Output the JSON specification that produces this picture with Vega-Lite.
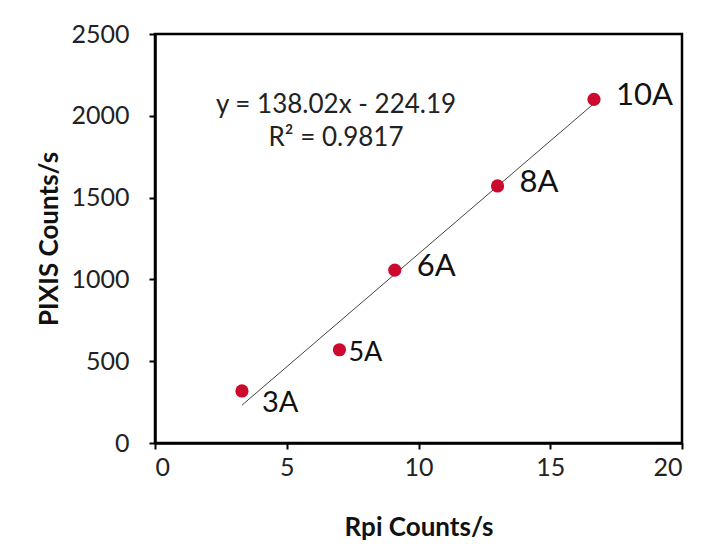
{
  "$schema": "https://vega.github.io/schema/vega-lite/v6.json",
  "width": 527,
  "height": 409,
  "autosize": "none",
  "padding": {"left": 155, "top": 34, "right": 36, "bottom": 113},
  "background": "white",
  "config": {
    "font": "Lato",
    "view": {"stroke": "#000000", "strokeWidth": 2.5},
    "axis": {
      "grid": false,
      "domainColor": "#000000",
      "domainWidth": 2.5,
      "tickColor": "#000000",
      "tickWidth": 2,
      "tickSize": 6,
      "labelFont": "Lato",
      "labelFontSize": 25,
      "labelColor": "#222222",
      "titleFont": "Lato",
      "titleFontSize": 26,
      "titleFontWeight": "bold",
      "titleColor": "#111111"
    }
  },
  "datasets": {
    "pts": [
      {"rpi": 3.3, "pixis": 318, "label": "3A"},
      {"rpi": 7.0, "pixis": 570, "label": "5A"},
      {"rpi": 9.1, "pixis": 1057, "label": "6A"},
      {"rpi": 13.0, "pixis": 1571, "label": "8A"},
      {"rpi": 16.66, "pixis": 2100, "label": "10A"}
    ],
    "trend": [
      {"rpi": 3.3, "pixis": 231.3},
      {"rpi": 16.7, "pixis": 2080.7}
    ],
    "eq": [
      {"rpi": 6.87, "pixis": 2069, "text": "y = 138.02x - 224.19\nR² = 0.9817"}
    ]
  },
  "layer": [
    {
      "data": {"name": "trend"},
      "mark": {"type": "line", "color": "#444444", "strokeWidth": 1},
      "encoding": {
        "x": {
          "field": "rpi", "type": "quantitative",
          "scale": {"domain": [0, 20], "nice": false},
          "axis": {"values": [0, 5, 10, 15, 20], "format": "d", "title": "Rpi Counts/s", "labelPadding": 6, "titlePadding": 34}
        },
        "y": {
          "field": "pixis", "type": "quantitative",
          "scale": {"domain": [0, 2500], "nice": false},
          "axis": {"values": [0, 500, 1000, 1500, 2000, 2500], "format": "d", "title": "PIXIS Counts/s", "labelPadding": 20, "titlePadding": 8}
        }
      }
    },
    {
      "data": {"name": "pts"},
      "mark": {"type": "circle", "color": "#CC0A2E", "opacity": 1, "size": 175},
      "encoding": {
        "x": {"field": "rpi", "type": "quantitative"},
        "y": {"field": "pixis", "type": "quantitative"}
      }
    },
    {
      "data": {"name": "pts"},
      "transform": [{"filter": "datum.label == '10A' || datum.label == '8A' || datum.label == '6A'"}],
      "mark": {"type": "text", "align": "left", "baseline": "middle", "dx": 22, "dy": -3, "fontSize": 31, "color": "#111111", "font": "Lato"},
      "encoding": {
        "x": {"field": "rpi", "type": "quantitative"},
        "y": {"field": "pixis", "type": "quantitative"},
        "text": {"field": "label"}
      }
    },
    {
      "data": {"name": "pts"},
      "transform": [{"filter": "datum.label == '5A'"}],
      "mark": {"type": "text", "align": "left", "baseline": "middle", "dx": 9, "dy": 3, "fontSize": 27, "color": "#111111", "font": "Lato"},
      "encoding": {
        "x": {"field": "rpi", "type": "quantitative"},
        "y": {"field": "pixis", "type": "quantitative"},
        "text": {"field": "label"}
      }
    },
    {
      "data": {"name": "pts"},
      "transform": [{"filter": "datum.label == '3A'"}],
      "mark": {"type": "text", "align": "left", "baseline": "middle", "dx": 20, "dy": 12, "fontSize": 29, "color": "#111111", "font": "Lato"},
      "encoding": {
        "x": {"field": "rpi", "type": "quantitative"},
        "y": {"field": "pixis", "type": "quantitative"},
        "text": {"field": "label"}
      }
    },
    {
      "data": {"name": "eq"},
      "mark": {"type": "text", "align": "center", "baseline": "middle", "lineBreak": "\n", "lineHeight": 33, "fontSize": 26, "color": "#222222", "font": "Lato"},
      "encoding": {
        "x": {"field": "rpi", "type": "quantitative"},
        "y": {"field": "pixis", "type": "quantitative"},
        "text": {"field": "text"}
      }
    }
  ]
}
